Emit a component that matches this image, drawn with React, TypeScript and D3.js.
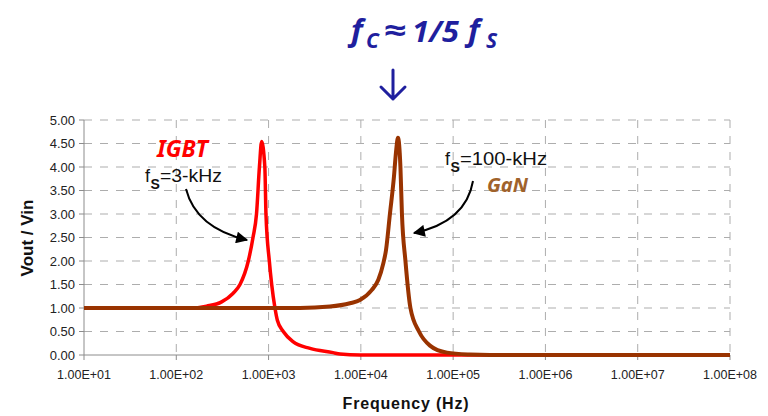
import React from "react";
import * as d3 from "d3";

// IGBT response (fs = 3 kHz)
const igbtFreq = [10, 141, 213, 310, 411, 490, 603, 678, 740, 796, 841, 911, 937, 1019, 1081, 1173, 1245, 1443, 1853, 2813, 4990, 5940, 9770, 1e8];
const igbtGain = [1.0, 1.0, 1.04, 1.13, 1.31, 1.5, 2.0, 2.5, 3.0, 4.0, 4.54, 4.0, 3.0, 2.0, 1.5, 1.0, 0.74, 0.5, 0.28, 0.14, 0.05, 0.02, 0.0, 0.0];

// GaN response (fs = 100 kHz)
const ganFreq = [10, 2188, 4624, 7620, 9780, 13090, 15460, 17510, 18720, 20650, 22850, 23990, 25230, 26840, 27870, 30420, 34450, 42640, 56110, 85730, 152000, 250000, 1e8];
const ganGain = [1.0, 1.0, 1.03, 1.1, 1.17, 1.38, 1.6, 1.95, 2.23, 3.0, 3.8, 4.3, 4.62, 4.0, 3.0, 2.0, 1.0, 0.5, 0.2, 0.05, 0.01, 0.0, 0.0];

const xTicks = [1e1, 1e2, 1e3, 1e4, 1e5, 1e6, 1e7, 1e8];
const xTickLabels = ["1.00E+01", "1.00E+02", "1.00E+03", "1.00E+04", "1.00E+05", "1.00E+06", "1.00E+07", "1.00E+08"];
const yTicks = [0, 0.5, 1, 1.5, 2, 2.5, 3, 3.5, 4, 4.5, 5];

export default function App() {
  const W = 768, H = 416;
  const x = d3.scaleLog().domain([10, 1e8]).range([84, 730]);
  const y = d3.scaleLinear().domain([0, 5]).range([355, 120]);
  const line = d3
    .line<[number, number]>()
    .x((d) => x(d[0]))
    .y((d) => y(d[1]))
    .curve(d3.curveMonotoneX);
  const igbt = igbtFreq.map((f, i) => [f, igbtGain[i]] as [number, number]);
  const gan = ganFreq.map((f, i) => [f, ganGain[i]] as [number, number]);
  const grid = "#ADADAD";
  const axis = "#8C8C8C";
  const blue = "#1F1F9E";
  const sans = "'Liberation Sans', Arial, sans-serif";
  const title = "'Noto Sans', 'Open Sans', sans-serif";
  return (
    <svg width={W} height={H} style={{ position: "absolute", left: 0, top: 0, background: "#fff" }}>
      <defs>
        <marker id="ah" viewBox="0 0 10 10" refX="9" refY="5" markerWidth="8" markerHeight="6" orient="auto" markerUnits="strokeWidth">
          <path d="M0,0 L10,5 L0,10 z" fill="#000" />
        </marker>
      </defs>
      {/* grid */}
      {yTicks.filter((t) => t > 0).map((t) => (
        <line key={"gy" + t} x1={x(10)} x2={x(1e8)} y1={y(t)} y2={y(t)} stroke={grid} strokeWidth={1} strokeDasharray="8 8" />
      ))}
      {xTicks.filter((t) => t > 10).map((t) => (
        <line key={"gx" + t} x1={x(t)} x2={x(t)} y1={y(5)} y2={y(0)} stroke={grid} strokeWidth={1} strokeDasharray="8 8" />
      ))}
      {/* axes */}
      <line x1={x(10)} x2={x(10)} y1={y(5)} y2={y(0)} stroke={axis} strokeWidth={1} />
      <line x1={x(10)} x2={x(1e8)} y1={y(0)} y2={y(0)} stroke={axis} strokeWidth={1} />
      {yTicks.map((t) => (
        <g key={"ty" + t}>
          <line x1={x(10) - 5} x2={x(10)} y1={y(t)} y2={y(t)} stroke={axis} />
          <text x={75} y={y(t) + 4.5} textAnchor="end" fontFamily={sans} fontSize={13} fill="#222">
            {t.toFixed(2)}
          </text>
        </g>
      ))}
      {xTicks.map((t, i) => (
        <g key={"tx" + t}>
          <line x1={x(t)} x2={x(t)} y1={y(0)} y2={y(0) + 5} stroke={axis} />
          <text x={x(t)} y={379} textAnchor="middle" fontFamily={sans} fontSize={12.5} fill="#222">
            {xTickLabels[i]}
          </text>
        </g>
      ))}
      <text x={406} y={409} textAnchor="middle" fontFamily={sans} fontSize={16} fontWeight="bold" letterSpacing={0.8} fill="#111">
        Frequency (Hz)
      </text>
      <text transform="translate(33,238) rotate(-90)" textAnchor="middle" fontFamily={sans} fontSize={17} fontWeight="bold" fill="#111">
        Vout / Vin
      </text>
      {/* curves */}
      <path d={line(igbt) || ""} fill="none" stroke="#FF0000" strokeWidth={3.5} strokeLinejoin="round" />
      <path d={line(gan) || ""} fill="none" stroke="#993300" strokeWidth={4} strokeLinejoin="round" />
      {/* title */}
      <g fill={blue} fontFamily={title} fontStyle="italic" fontWeight="bold">
        <text x={351} y={41} fontSize={31}>f</text>
        <text x={366} y={48} fontSize={21}>C</text>
        <text x={383} y={41} fontSize={30} textLength={23} lengthAdjust="spacingAndGlyphs">≈</text>
        <text x={412} y={42} fontSize={28} textLength={47} lengthAdjust="spacingAndGlyphs">1/5</text>
        <text x={468} y={41} fontSize={31}>f</text>
        <text x={486} y={48} fontSize={21}>S</text>
      </g>
      <path d="M393,70 L393,99 M381,87 L393,99 L405,87" fill="none" stroke={blue} strokeWidth={3} strokeLinecap="round" strokeLinejoin="round" />
      {/* annotations */}
      <text x={157} y={157} fontFamily={title} fontStyle="italic" fontWeight="bold" fontSize={23} fill="#FF0000" textLength={51} lengthAdjust="spacingAndGlyphs">
        IGBT
      </text>
      <text x={145} y={182} fontFamily={sans} fontSize={18} fill="#111">f</text>
      <text x={150.5} y={189} fontFamily={sans} fontSize={14} fontWeight="bold" fill="#111">S</text>
      <text x={160} y={182} fontFamily={sans} fontSize={18} fill="#111" textLength={62} lengthAdjust="spacingAndGlyphs">=3-kHz</text>
      <path d="M186,189 Q196,228 247,240" fill="none" stroke="#000" strokeWidth={2} markerEnd="url(#ah)" />

      <text x={445} y={165} fontFamily={sans} fontSize={18} fill="#111">f</text>
      <text x={450.5} y={172} fontFamily={sans} fontSize={14} fontWeight="bold" fill="#111">S</text>
      <text x={460} y={165} fontFamily={sans} fontSize={18} fill="#111" textLength={87} lengthAdjust="spacingAndGlyphs">=100-kHz</text>
      <text x={487} y={192} fontFamily={title} fontStyle="italic" fontWeight="bold" fontSize={19} fill="#A0622B" textLength={41} lengthAdjust="spacingAndGlyphs">
        GaN
      </text>
      <path d="M473,181 Q466,222 414,233" fill="none" stroke="#000" strokeWidth={2} markerEnd="url(#ah)" />
    </svg>
  );
}
